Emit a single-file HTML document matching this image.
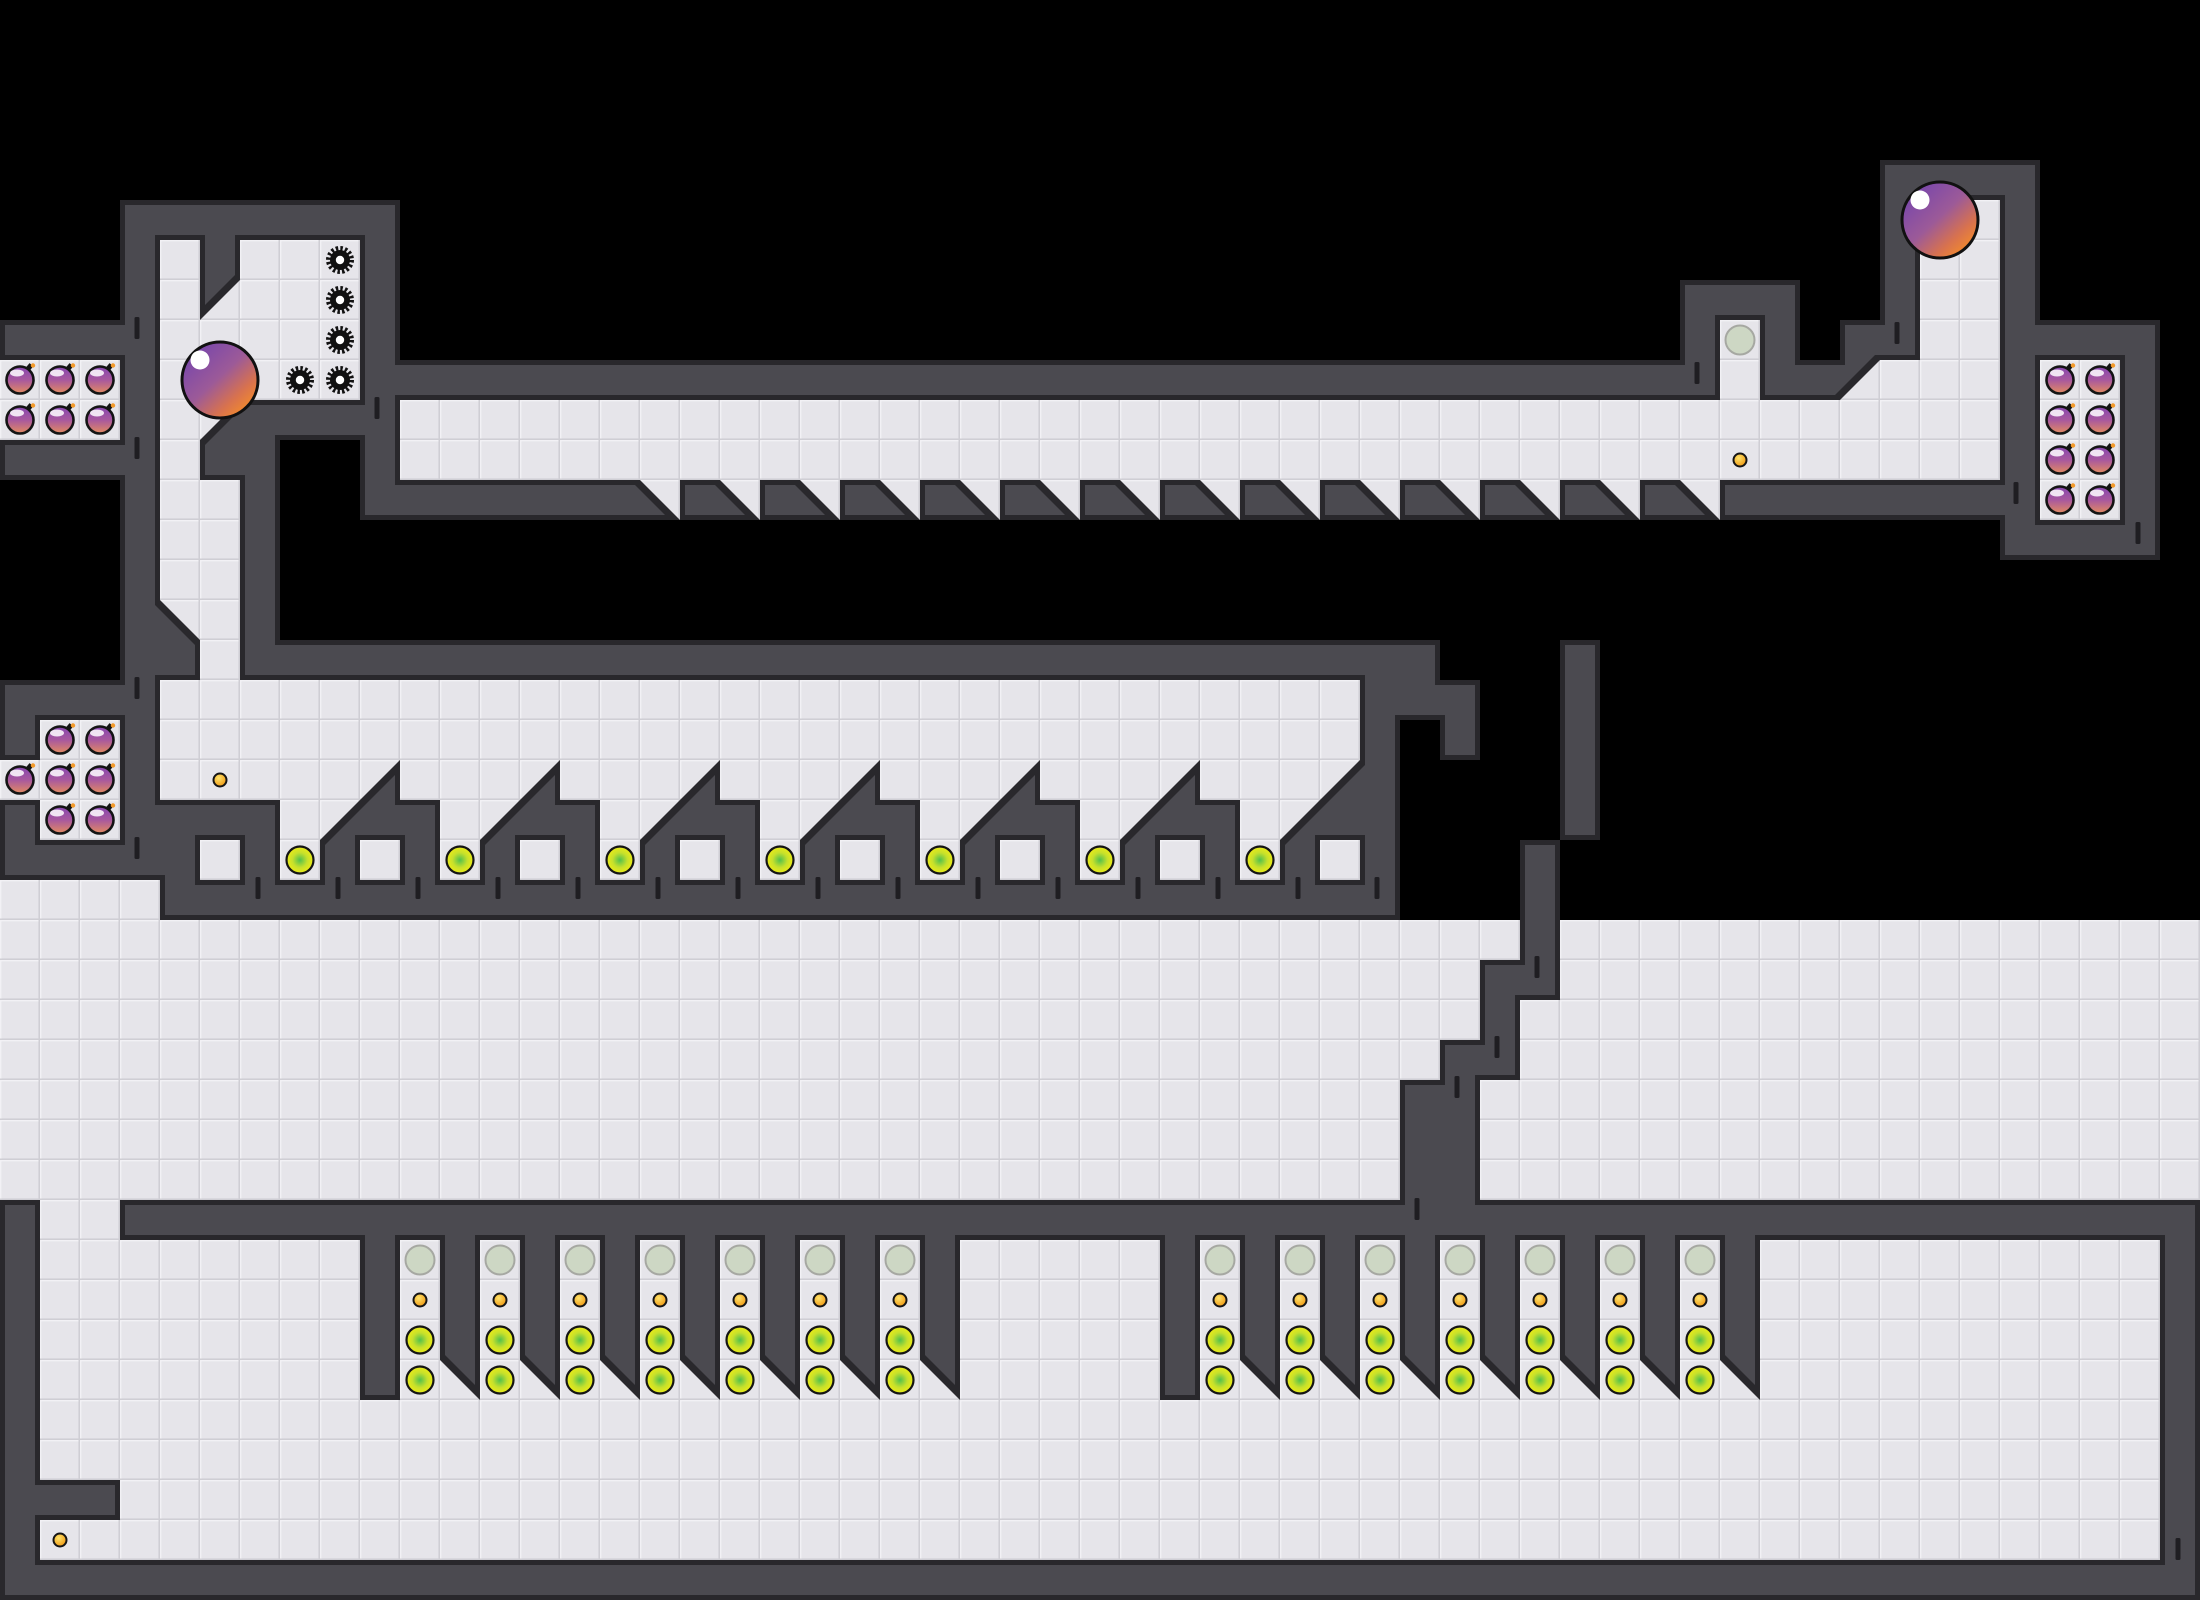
<!DOCTYPE html>
<html><head><meta charset="utf-8"><title>Map</title>
<style>html,body{margin:0;padding:0;background:#000;}svg{display:block;}</style></head>
<body>
<svg xmlns="http://www.w3.org/2000/svg" width="2200" height="1600" viewBox="0 0 2200 1600">
<defs>
<pattern id="tile" patternUnits="userSpaceOnUse" width="40" height="40">
<rect width="40" height="40" fill="#e3e2e7"/>
<rect x="2" y="2" width="36" height="36" fill="#e6e5ea"/>
<rect x="0" y="0" width="40" height="1.5" fill="#f2f1f5"/>
<rect x="0" y="0" width="1.5" height="40" fill="#f2f1f5"/>
<rect x="0" y="38.5" width="40" height="1.5" fill="#cfced4"/>
<rect x="38.5" y="0" width="1.5" height="40" fill="#cfced4"/>
</pattern>
<filter id="wallf" filterUnits="userSpaceOnUse" x="0" y="0" width="2200" height="1600" color-interpolation-filters="sRGB">
<feMorphology in="SourceAlpha" operator="erode" radius="5" result="er"/>
<feFlood flood-color="#4b4a50" result="wc"/>
<feComposite in="wc" in2="er" operator="in" result="inner"/>
<feFlood flood-color="#29282c" result="dc"/>
<feComposite in="dc" in2="SourceAlpha" operator="in" result="outer"/>
<feMerge><feMergeNode in="outer"/><feMergeNode in="inner"/></feMerge>
</filter>
<linearGradient id="gbig" x1="0.15" y1="0.15" x2="0.85" y2="0.9">
<stop offset="0" stop-color="#7b48aa"/><stop offset="0.45" stop-color="#9c5a98"/><stop offset="0.78" stop-color="#d8724e"/><stop offset="1" stop-color="#f28a2c"/>
</linearGradient>
<linearGradient id="gb" x1="0" y1="0" x2="0" y2="1">
<stop offset="0" stop-color="#8646b0"/><stop offset="0.5" stop-color="#a8589e"/><stop offset="1" stop-color="#e48c60"/>
</linearGradient>
<radialGradient id="gg" cx="0.5" cy="0.5" r="0.5">
<stop offset="0" stop-color="#52c04c"/><stop offset="0.55" stop-color="#c6e02c"/><stop offset="1" stop-color="#ecec16"/>
</radialGradient>
<radialGradient id="gc" cx="0.4" cy="0.35" r="0.6">
<stop offset="0" stop-color="#ffe46a"/><stop offset="1" stop-color="#f0a01e"/>
</radialGradient>
<g id="gear"><circle r="10" fill="#111"/><circle r="11.5" fill="none" stroke="#111" stroke-width="5" stroke-dasharray="2.4 2.116"/><circle r="4.2" fill="#fff"/></g>
<g id="bomb">
<rect x="7" y="-16" width="5" height="6" fill="#141414" transform="rotate(40 9.5 -13)"/>
<circle r="13.5" fill="url(#gb)" stroke="#141414" stroke-width="2.6"/>
<ellipse cx="-3" cy="-7" rx="7" ry="3.5" fill="#fff" opacity="0.85"/>
<circle cx="13" cy="-14.5" r="2.2" fill="#f39a2a"/>
</g>
<g id="green"><circle r="13.5" fill="url(#gg)" stroke="#151515" stroke-width="2.2"/></g>
<g id="ghost"><circle r="14.5" fill="#cdd7c4" stroke="#a6a8a2" stroke-width="2"/></g>
<g id="coin"><circle r="6.5" fill="url(#gc)" stroke="#151515" stroke-width="2"/></g>
<rect id="slit" x="-2.5" y="0" width="5" height="22" rx="1.5" fill="#1f1e22"/>
</defs>

<rect width="2200" height="1600" fill="#000"/>

<!-- floors -->
<g fill="url(#tile)">
<rect x="160" y="240" width="80" height="440"/>
<rect x="240" y="240" width="120" height="160"/>
<rect x="0" y="360" width="120" height="80"/>
<rect x="400" y="400" width="1600" height="80"/>
<rect x="640" y="480" width="1080" height="40"/>
<rect x="1720" y="320" width="40" height="80"/>
<rect x="1920" y="200" width="80" height="200"/>
<rect x="1840" y="360" width="80" height="40"/>
<rect x="2040" y="360" width="80" height="160"/>
<rect x="160" y="680" width="1200" height="200"/>
<rect x="40" y="720" width="80" height="120"/>
<rect x="0" y="760" width="40" height="40"/>
<rect x="0" y="880" width="160" height="40"/>
<rect x="0" y="920" width="2200" height="280"/>
<rect x="40" y="1200" width="80" height="40"/>
<rect x="40" y="1240" width="2120" height="320"/>
</g>

<!-- walls -->
<g filter="url(#wallf)" fill="#4b4a50">
<rect x="120" y="200" width="280" height="40"/>
<rect x="120" y="200" width="40" height="680"/>
<rect x="360" y="200" width="40" height="320"/>
<rect x="200" y="240" width="40" height="40"/>
<polygon points="200,280 240,280 200,320"/>
<polygon points="240,400 240,440 200,440"/>
<rect x="240" y="400" width="120" height="40"/>
<rect x="200" y="440" width="40" height="40"/>
<rect x="240" y="440" width="40" height="240"/>
<polygon points="160,600 200,640 160,640"/>
<rect x="160" y="640" width="40" height="40"/>
<rect x="240" y="640" width="1200" height="40"/>
<rect x="0" y="320" width="120" height="40"/>
<rect x="0" y="440" width="120" height="40"/>
<rect x="360" y="360" width="1320" height="40"/>
<rect x="1680" y="280" width="40" height="120"/>
<rect x="1720" y="280" width="40" height="40"/>
<rect x="1760" y="280" width="40" height="120"/>
<rect x="1800" y="360" width="40" height="40"/>
<rect x="1840" y="320" width="40" height="40"/>
<polygon points="1840,360 1880,360 1840,400"/>
<rect x="1880" y="160" width="40" height="200"/>
<rect x="1880" y="160" width="160" height="40"/>
<rect x="2000" y="160" width="40" height="400"/>
<rect x="2000" y="320" width="160" height="40"/>
<rect x="2000" y="520" width="160" height="40"/>
<rect x="2120" y="320" width="40" height="240"/>
<rect x="360" y="480" width="280" height="40"/>
<polygon points="640,480 680,520 640,520"/><rect x="680" y="480" width="40" height="40"/>
<polygon points="720,480 760,520 720,520"/><rect x="760" y="480" width="40" height="40"/>
<polygon points="800,480 840,520 800,520"/><rect x="840" y="480" width="40" height="40"/>
<polygon points="880,480 920,520 880,520"/><rect x="920" y="480" width="40" height="40"/>
<polygon points="960,480 1000,520 960,520"/><rect x="1000" y="480" width="40" height="40"/>
<polygon points="1040,480 1080,520 1040,520"/><rect x="1080" y="480" width="40" height="40"/>
<polygon points="1120,480 1160,520 1120,520"/><rect x="1160" y="480" width="40" height="40"/>
<polygon points="1200,480 1240,520 1200,520"/><rect x="1240" y="480" width="40" height="40"/>
<polygon points="1280,480 1320,520 1280,520"/><rect x="1320" y="480" width="40" height="40"/>
<polygon points="1360,480 1400,520 1360,520"/><rect x="1400" y="480" width="40" height="40"/>
<polygon points="1440,480 1480,520 1440,520"/><rect x="1480" y="480" width="40" height="40"/>
<polygon points="1520,480 1560,520 1520,520"/><rect x="1560" y="480" width="40" height="40"/>
<polygon points="1600,480 1640,520 1600,520"/><rect x="1640" y="480" width="40" height="40"/>
<polygon points="1680,480 1720,520 1680,520"/><rect x="1720" y="480" width="40" height="40"/>
<rect x="1760" y="480" width="240" height="40"/>

<rect x="0" y="680" width="160" height="40"/>
<rect x="0" y="840" width="160" height="40"/>
<rect x="0" y="720" width="40" height="40"/>
<rect x="0" y="800" width="40" height="40"/>
<rect x="1360" y="640" width="40" height="280"/>
<rect x="1400" y="640" width="40" height="80"/>
<rect x="1440" y="680" width="40" height="80"/>
<rect x="160" y="880" width="1240" height="40"/>
<rect x="160" y="800" width="120" height="40"/>
<rect x="160" y="840" width="40" height="40"/><rect x="240" y="840" width="40" height="40"/>
<rect x="320" y="840" width="40" height="40"/><rect x="400" y="840" width="40" height="40"/>
<rect x="480" y="840" width="40" height="40"/><rect x="560" y="840" width="40" height="40"/>
<rect x="640" y="840" width="40" height="40"/><rect x="720" y="840" width="40" height="40"/>
<rect x="800" y="840" width="40" height="40"/><rect x="880" y="840" width="40" height="40"/>
<rect x="960" y="840" width="40" height="40"/><rect x="1040" y="840" width="40" height="40"/>
<rect x="1120" y="840" width="40" height="40"/><rect x="1200" y="840" width="40" height="40"/>
<rect x="1280" y="840" width="40" height="40"/>
<rect x="400" y="800" width="40" height="40"/><rect x="560" y="800" width="40" height="40"/>
<rect x="720" y="800" width="40" height="40"/><rect x="880" y="800" width="40" height="40"/>
<rect x="1040" y="800" width="40" height="40"/><rect x="1200" y="800" width="40" height="40"/>
<polygon points="320,840 400,760 400,840"/>
<polygon points="480,840 560,760 560,840"/>
<polygon points="640,840 720,760 720,840"/>
<polygon points="800,840 880,760 880,840"/>
<polygon points="960,840 1040,760 1040,840"/>
<polygon points="1120,840 1200,760 1200,840"/>
<polygon points="1280,840 1360,760 1360,840"/>
<rect x="1560" y="640" width="40" height="200"/>
<rect x="1520" y="840" width="40" height="160"/>
<rect x="1480" y="960" width="40" height="120"/>
<rect x="1440" y="1040" width="40" height="160"/>
<rect x="1400" y="1080" width="40" height="120"/>

<rect x="0" y="1200" width="40" height="400"/>
<rect x="120" y="1200" width="2080" height="40"/>
<rect x="2160" y="1200" width="40" height="400"/>
<rect x="0" y="1560" width="2200" height="40"/>
<rect x="40" y="1480" width="80" height="40"/>
<rect x="360" y="1240" width="40" height="160"/>
<rect x="440" y="1240" width="40" height="120"/><polygon points="440,1360 480,1360 480,1400"/>
<rect x="520" y="1240" width="40" height="120"/><polygon points="520,1360 560,1360 560,1400"/>
<rect x="600" y="1240" width="40" height="120"/><polygon points="600,1360 640,1360 640,1400"/>
<rect x="680" y="1240" width="40" height="120"/><polygon points="680,1360 720,1360 720,1400"/>
<rect x="760" y="1240" width="40" height="120"/><polygon points="760,1360 800,1360 800,1400"/>
<rect x="840" y="1240" width="40" height="120"/><polygon points="840,1360 880,1360 880,1400"/>
<rect x="920" y="1240" width="40" height="120"/><polygon points="920,1360 960,1360 960,1400"/>
<rect x="1160" y="1240" width="40" height="160"/>
<rect x="1240" y="1240" width="40" height="120"/><polygon points="1240,1360 1280,1360 1280,1400"/>
<rect x="1320" y="1240" width="40" height="120"/><polygon points="1320,1360 1360,1360 1360,1400"/>
<rect x="1400" y="1240" width="40" height="120"/><polygon points="1400,1360 1440,1360 1440,1400"/>
<rect x="1480" y="1240" width="40" height="120"/><polygon points="1480,1360 1520,1360 1520,1400"/>
<rect x="1560" y="1240" width="40" height="120"/><polygon points="1560,1360 1600,1360 1600,1400"/>
<rect x="1640" y="1240" width="40" height="120"/><polygon points="1640,1360 1680,1360 1680,1400"/>
<rect x="1720" y="1240" width="40" height="120"/><polygon points="1720,1360 1760,1360 1760,1400"/>
</g>

<!-- slits -->
<g>
<use href="#slit" x="137" y="317"/><use href="#slit" x="137" y="437"/><use href="#slit" x="377" y="397"/>
<use href="#slit" x="137" y="677"/><use href="#slit" x="137" y="837"/>
<use href="#slit" x="258" y="877"/><use href="#slit" x="338" y="877"/><use href="#slit" x="418" y="877"/>
<use href="#slit" x="498" y="877"/><use href="#slit" x="578" y="877"/><use href="#slit" x="658" y="877"/>
<use href="#slit" x="738" y="877"/><use href="#slit" x="818" y="877"/><use href="#slit" x="898" y="877"/>
<use href="#slit" x="978" y="877"/><use href="#slit" x="1058" y="877"/><use href="#slit" x="1138" y="877"/>
<use href="#slit" x="1218" y="877"/><use href="#slit" x="1298" y="877"/><use href="#slit" x="1377" y="877"/>
<use href="#slit" x="1697" y="362"/><use href="#slit" x="1897" y="322"/>
<use href="#slit" x="2016" y="482"/><use href="#slit" x="2138" y="522"/>
<use href="#slit" x="1537" y="956"/><use href="#slit" x="1497" y="1036"/><use href="#slit" x="1457" y="1076"/>
<use href="#slit" x="1417" y="1198"/><use href="#slit" x="2178" y="1538"/>
</g>

<!-- gears -->
<use href="#gear" x="340" y="260"/><use href="#gear" x="340" y="300"/>
<use href="#gear" x="340" y="340"/><use href="#gear" x="340" y="380"/>
<use href="#gear" x="300" y="380"/>

<!-- bombs -->
<use href="#bomb" x="20" y="380"/><use href="#bomb" x="60" y="380"/><use href="#bomb" x="100" y="380"/>
<use href="#bomb" x="20" y="420"/><use href="#bomb" x="60" y="420"/><use href="#bomb" x="100" y="420"/>
<use href="#bomb" x="60" y="740"/><use href="#bomb" x="100" y="740"/>
<use href="#bomb" x="20" y="780"/><use href="#bomb" x="60" y="780"/><use href="#bomb" x="100" y="780"/>
<use href="#bomb" x="60" y="820"/><use href="#bomb" x="100" y="820"/>
<use href="#bomb" x="2060" y="380"/><use href="#bomb" x="2100" y="380"/>
<use href="#bomb" x="2060" y="420"/><use href="#bomb" x="2100" y="420"/>
<use href="#bomb" x="2060" y="460"/><use href="#bomb" x="2100" y="460"/>
<use href="#bomb" x="2060" y="500"/><use href="#bomb" x="2100" y="500"/>

<!-- middle pits green -->
<use href="#green" x="300" y="860"/><use href="#green" x="460" y="860"/><use href="#green" x="620" y="860"/>
<use href="#green" x="780" y="860"/><use href="#green" x="940" y="860"/><use href="#green" x="1100" y="860"/>
<use href="#green" x="1260" y="860"/>

<!-- coins & ghost singles -->
<use href="#coin" x="220" y="780"/><use href="#coin" x="1740" y="460"/><use href="#coin" x="60" y="1540"/>
<use href="#ghost" x="1740" y="340"/>

<!-- lower pits -->
<g>
<use href="#ghost" x="420" y="1260"/><use href="#coin" x="420" y="1300"/><use href="#green" x="420" y="1340"/><use href="#green" x="420" y="1380"/>
<use href="#ghost" x="500" y="1260"/><use href="#coin" x="500" y="1300"/><use href="#green" x="500" y="1340"/><use href="#green" x="500" y="1380"/>
<use href="#ghost" x="580" y="1260"/><use href="#coin" x="580" y="1300"/><use href="#green" x="580" y="1340"/><use href="#green" x="580" y="1380"/>
<use href="#ghost" x="660" y="1260"/><use href="#coin" x="660" y="1300"/><use href="#green" x="660" y="1340"/><use href="#green" x="660" y="1380"/>
<use href="#ghost" x="740" y="1260"/><use href="#coin" x="740" y="1300"/><use href="#green" x="740" y="1340"/><use href="#green" x="740" y="1380"/>
<use href="#ghost" x="820" y="1260"/><use href="#coin" x="820" y="1300"/><use href="#green" x="820" y="1340"/><use href="#green" x="820" y="1380"/>
<use href="#ghost" x="900" y="1260"/><use href="#coin" x="900" y="1300"/><use href="#green" x="900" y="1340"/><use href="#green" x="900" y="1380"/>
<use href="#ghost" x="1220" y="1260"/><use href="#coin" x="1220" y="1300"/><use href="#green" x="1220" y="1340"/><use href="#green" x="1220" y="1380"/>
<use href="#ghost" x="1300" y="1260"/><use href="#coin" x="1300" y="1300"/><use href="#green" x="1300" y="1340"/><use href="#green" x="1300" y="1380"/>
<use href="#ghost" x="1380" y="1260"/><use href="#coin" x="1380" y="1300"/><use href="#green" x="1380" y="1340"/><use href="#green" x="1380" y="1380"/>
<use href="#ghost" x="1460" y="1260"/><use href="#coin" x="1460" y="1300"/><use href="#green" x="1460" y="1340"/><use href="#green" x="1460" y="1380"/>
<use href="#ghost" x="1540" y="1260"/><use href="#coin" x="1540" y="1300"/><use href="#green" x="1540" y="1340"/><use href="#green" x="1540" y="1380"/>
<use href="#ghost" x="1620" y="1260"/><use href="#coin" x="1620" y="1300"/><use href="#green" x="1620" y="1340"/><use href="#green" x="1620" y="1380"/>
<use href="#ghost" x="1700" y="1260"/><use href="#coin" x="1700" y="1300"/><use href="#green" x="1700" y="1340"/><use href="#green" x="1700" y="1380"/>
</g>

<!-- big balls -->
<circle cx="220" cy="380" r="38" fill="url(#gbig)" stroke="#111" stroke-width="3"/>
<circle cx="200" cy="360" r="9.5" fill="#fff"/>
<circle cx="1940" cy="220" r="38" fill="url(#gbig)" stroke="#111" stroke-width="3"/>
<circle cx="1920" cy="200" r="9.5" fill="#fff"/>
</svg>
</body></html>
